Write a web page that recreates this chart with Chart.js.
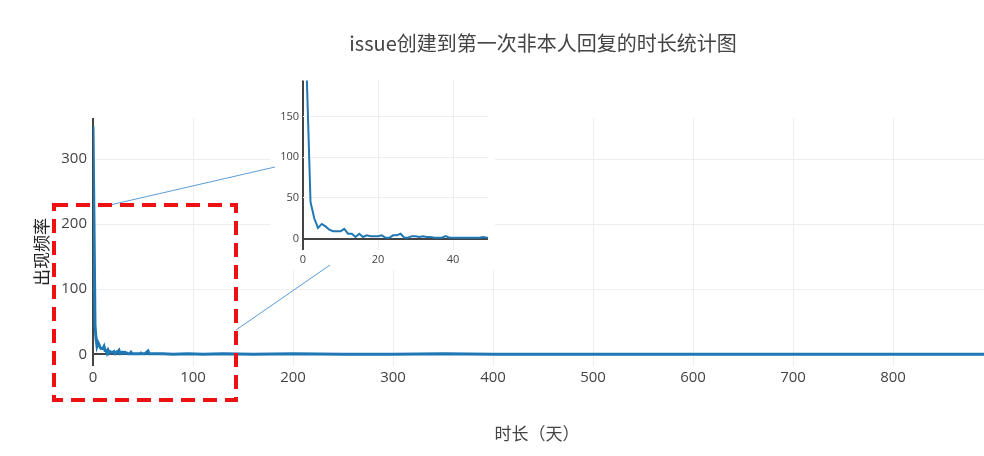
<!DOCTYPE html>
<html lang="zh">
<head>
<meta charset="UTF-8">
<title>issue时长统计</title>
<script src="https://cdn.jsdelivr.net/npm/chart.js"></script>
<style>
  body { margin: 0; background: #fff; font-family: 'Open Sans', 'Noto Sans CJK SC', sans-serif; }
  #wrap { position: relative; width: 984px; height: 456px; overflow: hidden; }
  canvas { position: absolute; }
  #main { left: 0; top: 0; }
  #inset { left: 270px; top: 70px; background: #fff; }
  .txt { position: absolute; color: #444; font-family: 'Noto Sans CJK SC', sans-serif; white-space: nowrap; }
  #title { left: 543px; top: 42px; font-size: 20px; transform: translate(-50%, -50%); }
  #xtitle { left: 537px; top: 432px; font-size: 17px; transform: translate(-50%, -50%); }
  #ytitle { left: 40px; top: 252px; font-size: 17px; transform: translate(-50%, -50%) rotate(-90deg); color: #222; }
  svg { position: absolute; left: 0; top: 0; pointer-events: none; }
</style>
</head>
<body>
<div id="wrap">
  <canvas id="main" width="984" height="456"></canvas>
  <canvas id="inset" width="225" height="200"></canvas>
  <svg width="984" height="456">
    <line x1="110" y1="205" x2="275" y2="167" stroke="#5b9bd5" stroke-width="1"/>
    <line x1="236" y1="330" x2="330" y2="265" stroke="#5b9bd5" stroke-width="1"/>
    <rect x="54" y="205" width="182" height="195" fill="none" stroke="#ee1111" stroke-width="4" stroke-dasharray="14,8"/>
  </svg>
  <div class="txt" id="title">issue创建到第一次非本人回复的时长统计图</div>
  <div class="txt" id="xtitle">时长（天）</div>
  <div class="txt" id="ytitle">出现频率</div>
</div>
<script>
  // days and counts
  const days = [0,1,2,3,4,5,6,7,8,9,10,11,12,13,14,15,16,17,18,19,20,21,22,23,24,25,26,27,28,29,30,31,32,33,34,35,36,37,38,39,40,41,42,43,44,45,46,47,48,49,
                52,55,56,58,62,70,80,95,110,130,160,200,250,300,350,400,450,500,550,600,650,700,750,800,850,891];
  const counts = [350,200,45,25,13,18,15,11,9,9,9,12,6,6,2,6,2,4,3,3,3,4,1,1,4,4,6,1,1,3,3,2,3,2,2,1,1,1,3,1,1,1,1,1,1,1,1,1,2,1,
                  1,5,1,1,1,1,0,1,0,1,0,1,0,0,1,0,0,0,0,0,0,0,0,0,0,0];
  const mainXTicks = [0,100,200,300,400,500,600,700,800];
  const mainYTicks = [0,100,200,300];
  const insetXTicks = [0,20,40];
  const insetYTicks = [0,50,100,150];
  const points = days.map((d, i) => ({ x: d, y: counts[i] }));

  const tickColor = '#444';
  function setTicks(list) {
    return scale => { scale.ticks = list.map(v => ({ value: v })); };
  }
  function gridColor(ctx) { return ctx.tick && ctx.tick.value === 0 ? '#444' : '#eee'; }
  function gridWidth(ctx) { return ctx.tick && ctx.tick.value === 0 ? 2 : 1; }

  new Chart(document.getElementById('main'), {
    type: 'line',
    data: { datasets: [{ data: points, borderColor: '#1f77b4', borderWidth: 3, pointRadius: 0, tension: 0 }] },
    options: {
      responsive: false, animation: false,
      layout: { padding: { top: 118, right: 0, left: 0, bottom: 0 } },
      plugins: { legend: { display: false }, tooltip: { enabled: false } },
      scales: {
        x: {
          type: 'linear', min: 0, max: 891,
          ticks: { color: tickColor, font: { size: 15, family: 'Open Sans' } },
          grid: { color: gridColor, lineWidth: gridWidth, drawTicks: false },
          border: { display: false },
          afterBuildTicks: setTicks(mainXTicks),
          afterFit: s => { s.height = 90; }
        },
        y: {
          min: -18, max: 363,
          ticks: { color: tickColor, font: { size: 15, family: 'Open Sans' }, padding: 6 },
          grid: { color: gridColor, lineWidth: gridWidth, drawTicks: false },
          border: { display: false },
          afterBuildTicks: setTicks(mainYTicks),
          afterFit: s => { s.width = 93; }
        }
      }
    }
  });

  new Chart(document.getElementById('inset'), {
    type: 'line',
    data: { datasets: [{ data: points, borderColor: '#1f77b4', borderWidth: 2, pointRadius: 0, tension: 0 }] },
    options: {
      responsive: false, animation: false,
      layout: { padding: { top: 5, right: 7, left: 0, bottom: 0 } },
      plugins: { legend: { display: false }, tooltip: { enabled: false } },
      scales: {
        x: {
          type: 'linear', min: 0, max: 49.3,
          ticks: { color: tickColor, font: { size: 11, family: 'Open Sans' } },
          grid: { color: gridColor, lineWidth: gridWidth, drawTicks: false },
          border: { display: false },
          afterBuildTicks: setTicks(insetXTicks),
          afterFit: s => { s.height = 20; }
        },
        y: {
          min: -14, max: 194,
          ticks: { color: tickColor, font: { size: 11, family: 'Open Sans' }, padding: 4 },
          grid: { color: gridColor, lineWidth: gridWidth, drawTicks: false },
          border: { display: false },
          afterBuildTicks: setTicks(insetYTicks),
          afterFit: s => { s.width = 33; }
        }
      }
    }
  });
</script>
</body>
</html>
